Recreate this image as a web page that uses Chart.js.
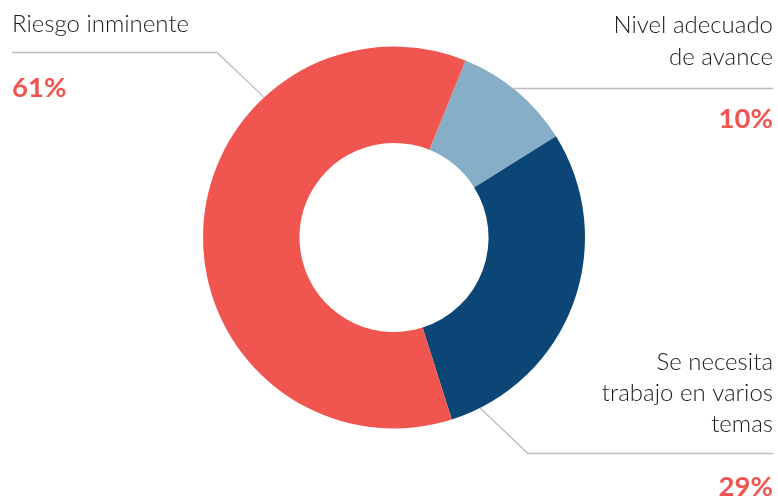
<!DOCTYPE html>
<html>
<head>
<meta charset="utf-8">
<script src="https://cdn.jsdelivr.net/npm/chart.js@4/dist/chart.umd.min.js"></script>
<style>
  html, body { margin: 0; padding: 0; background: #fff; }
  #wrap { width: 778px; height: 499px; position: relative; }
</style>
</head>
<body>
<div id="wrap"><canvas id="donut"></canvas></div>
<script>
// categories and values (percent)
const categories = ["Nivel adecuado de avance", "Se necesita trabajo en varios temas", "Riesgo inminente"];
const values = [10, 29, 61];
const colors = ["#86aec6", "#0c4677", "#f05550"];
// label lines shown next to each slice
const labelLines = [["Nivel adecuado", "de avance"], ["Se necesita", "trabajo en varios", "temas"], ["Riesgo inminente"]];

const textFont = "300 24px Lato";
const pctFont = "bold 27.5px Lato";

// leader lines + labels
const calloutPlugin = {
    id: 'callouts',
    afterDraw: function (chart) {
        const ctx = chart.ctx;
        const arcs = chart.getDatasetMeta(0).data;
        const cx = arcs[0].x, cy = arcs[0].y, r = arcs[0].outerRadius;
        const pt = function (deg) {
            const a = deg * Math.PI / 180;
            return [cx + r * Math.cos(a), cy + r * Math.sin(a)];
        };
        ctx.save();
        ctx.strokeStyle = '#bdbdbd';
        ctx.lineWidth = 1.3;

        // Riesgo inminente (top left)
        let p = pt(-132.8);
        ctx.beginPath();
        ctx.moveTo(p[0], p[1]);
        ctx.lineTo(217, 52.5);
        ctx.lineTo(12, 52.5);
        ctx.stroke();

        // Nivel adecuado (top right)
        p = pt(-52.2);
        ctx.beginPath();
        ctx.moveTo(p[0], 88.5);
        ctx.lineTo(773, 88.5);
        ctx.stroke();

        // Se necesita (bottom right)
        p = pt(63.2);
        ctx.beginPath();
        ctx.moveTo(p[0], p[1]);
        ctx.lineTo(528, 453.5);
        ctx.lineTo(773, 453.5);
        ctx.stroke();

        ctx.textBaseline = 'alphabetic';
        ctx.fillStyle = '#1a1a1a';
        ctx.font = textFont;

        ctx.textAlign = 'left';
        ctx.fillText(labelLines[2][0], 12, 32);

        ctx.textAlign = 'right';
        ctx.fillText(labelLines[0][0], 773, 33);
        ctx.fillText(labelLines[0][1], 773, 65);

        ctx.fillText(labelLines[1][0], 773, 370);
        ctx.fillText(labelLines[1][1], 773, 401);
        ctx.fillText(labelLines[1][2], 773, 432);

        ctx.font = pctFont;
        ctx.fillStyle = '#f05550';
        ctx.textAlign = 'left';
        ctx.fillText(values[2] + '%', 12, 97);
        ctx.textAlign = 'right';
        ctx.fillText(values[0] + '%', 773, 128);
        ctx.fillText(values[1] + '%', 773, 496);
        ctx.restore();
    }
};

var area = document.getElementById("donut").getContext("2d");
var urChart = new Chart(area, {
    type: 'doughnut',
    data: {
        labels: categories,
        datasets: [{
            data: values,
            backgroundColor: colors,
            borderWidth: 0,
            hoverOffset: 0
        }]
    },
    options: {
        responsive: true,
        maintainAspectRatio: false,
        animation: false,
        cutout: '49.5%',
        rotation: 22,
        layout: {
            padding: { top: 46.5, bottom: 70.5, left: 203, right: 193 }
        },
        plugins: {
            legend: { display: false },
            tooltip: { enabled: false }
        }
    },
    plugins: [calloutPlugin]
});
</script>
</body>
</html>
